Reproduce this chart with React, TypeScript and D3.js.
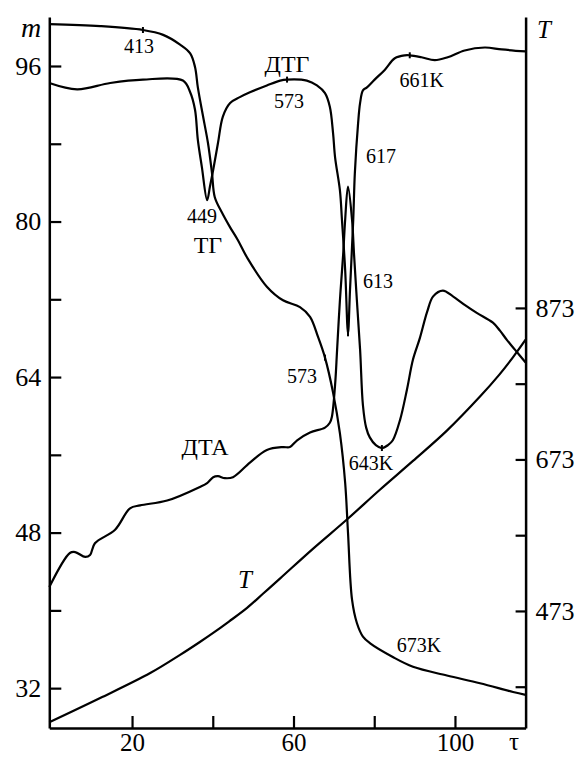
import React, { useRef, useEffect } from 'react';
import * as d3 from 'd3';

type Pt = [number, number]; // [tau, value]

// ТГ, mass in left-axis units
const tgCurve: Pt[] = [
  [-0.5, 100.3], [12.1, 100.1], [22.7, 99.7], [27.7, 99.2], [31.9, 98.2], [34.4, 97.3],
  [35.6, 95.9], [36.3, 93.8], [37.6, 90.8], [38.8, 88.1], [39.8, 85.0], [40.5, 82.5],
  [42.3, 80.9], [44.3, 79.4], [46.2, 78.1], [48.5, 76.3], [53.4, 73.3], [57.4, 71.9],
  [61.6, 71.2], [64.1, 70.2], [66.1, 68.1], [67.8, 66.0], [69.8, 62.4], [71.5, 58.2],
  [72.8, 53.1], [73.5, 48.0], [74.5, 41.1], [75.7, 38.7], [77.2, 37.3], [79.0, 36.6],
  [84.6, 35.2], [89.6, 34.2], [98.0, 33.3], [106.2, 32.5], [114.4, 31.6], [117.5, 31.3],
];

// ДТГ, arbitrary units drawn on the left axis
const dtgCurve: Pt[] = [
  [-0.5, 94.25], [6.4, 93.6], [14.6, 94.25], [22.7, 94.6], [32.6, 94.5], [34.4, 93.3],
  [35.6, 91.5], [36.3, 88.4], [37.3, 85.6], [38.6, 82.2], [39.3, 83.6], [40.1, 85.3],
  [41.3, 88.1], [42.5, 90.8], [44.3, 92.2], [46.7, 92.8], [49.2, 93.3], [53.4, 94.0],
  [56.7, 94.5], [58.4, 94.6], [63.3, 94.5], [65.8, 94.0], [67.8, 93.2], [69.0, 91.8],
  [69.8, 89.1], [70.3, 86.6], [71.5, 83.2], [72.0, 80.2], [72.8, 75.0], [73.5, 68.5],
  [74.0, 73.0], [74.8, 80.2], [75.2, 85.0], [76.0, 90.1], [76.5, 92.2], [77.2, 93.5],
  [78.2, 93.8], [80.1, 94.6], [82.6, 95.6], [85.1, 96.8], [87.6, 97.1], [88.8, 97.1],
  [91.7, 96.9], [95.0, 96.6], [98.2, 96.9], [102.4, 97.6], [107.4, 97.9], [111.6, 97.7],
  [117.5, 97.5],
];

// ДТА, arbitrary units drawn on the left axis
const dtaCurve: Pt[] = [
  [-0.5, 42.4], [4.6, 45.9], [5.9, 46.0], [8.4, 45.5], [9.6, 45.7], [10.8, 46.9],
  [15.8, 48.3], [19.5, 50.5], [22.0, 50.8], [28.7, 51.3], [36.8, 52.7], [38.6, 53.1],
  [40.1, 53.7], [41.3, 53.8], [43.0, 53.6], [45.0, 53.7], [49.2, 55.2], [53.4, 56.5],
  [57.4, 56.8], [59.1, 56.8], [60.9, 57.5], [64.1, 58.3], [67.8, 58.8], [69.0, 59.3],
  [69.5, 59.9], [70.3, 63.2], [70.8, 66.8], [71.5, 71.9], [72.3, 76.6], [72.8, 80.2],
  [73.5, 83.6], [74.5, 80.2], [75.0, 76.6], [75.7, 71.9], [76.5, 66.8], [77.2, 61.1],
  [78.0, 58.8], [78.9, 57.8], [80.4, 57.0], [81.9, 56.7], [83.4, 57.0], [84.6, 57.5],
  [86.4, 59.6], [88.1, 62.7], [89.6, 65.8], [91.3, 68.0], [93.1, 70.7], [94.6, 72.3],
  [97.0, 72.9], [99.5, 72.3], [102.5, 71.4], [105.4, 70.6], [109.4, 69.6], [111.1, 68.8],
  [112.9, 67.8], [114.9, 66.8], [117.5, 65.5],
];

// T, kelvin on the right axis
const tempCurve: Pt[] = [
  [-0.5, 326], [12.1, 358], [24.5, 391], [31.9, 415], [36.8, 432], [40.1, 444],
  [44.0, 459], [48.5, 477], [52.5, 496], [56.7, 516], [64.8, 555], [73.3, 594],
  [81.4, 633], [89.6, 671], [98.0, 711], [106.2, 756], [111.0, 785], [114.4, 808],
  [117.5, 831],
];

interface Mark { tau: number; v: number; text: string }

const tgMarks: Mark[] = [
  { tau: 22.7, v: 99.7, text: '413' },
  { tau: 67.8, v: 66.0, text: '573' },
  { tau: 89.6, v: 34.2, text: '673K' },
];
const dtgMarks: Mark[] = [
  { tau: 38.6, v: 82.2, text: '449' },
  { tau: 58.4, v: 94.6, text: '573' },
  { tau: 73.5, v: 68.5, text: '613' },
  { tau: 88.8, v: 97.1, text: '661K' },
];
const dtaMarks: Mark[] = [
  { tau: 73.5, v: 83.6, text: '617' },
  { tau: 81.9, v: 56.7, text: '643K' },
];

const massTicks = [32, 40, 48, 56, 64, 72, 80, 88, 96];
const massLabels = [32, 48, 64, 80, 96];
const tempTicks = [373, 473, 573, 673, 773, 873];
const tempLabels = [473, 673, 873];
const timeTicks = [20, 40, 60, 80, 100];
const timeLabels = [20, 60, 100];

const W = 578;
const H = 758;
const FONT = '"Liberation Serif", "Times New Roman", serif';

// label offsets from the marked point (px) and whether a small tick is drawn
const markStyle: Record<string, [number, number, boolean]> = {
  'tg413': [-4, 23, true],
  'tg573': [-23, 25, true],
  'tg673K': [6, -15, false],
  'dtg449': [-5, 23, false],
  'dtg573': [2, 28, true],
  'dtg613': [30, -45, true],
  'dtg661K': [12, 32, true],
  'dta617': [33, -24, false],
  'dta643K': [-11, 22, true],
};

const App: React.FC = () => {
  const svgRef = useRef<SVGSVGElement | null>(null);

  useEffect(() => {
    if (!svgRef.current) return;
    const svg = d3.select(svgRef.current);
    svg.selectAll('*').remove();

    const x = d3.scaleLinear().domain([-0.5, 117.5]).range([49.3, 525.6]);
    const yM = d3.scaleLinear().domain([27.9, 101.04]).range([728, 17]);
    const yT = d3.scaleLinear().domain([318.5, 1257]).range([728, 17]);

    const g = svg.append('g').style('font-family', FONT);

    // axes
    const left = g.append('g').attr('transform', `translate(${x(-0.5)},0)`)
      .call(d3.axisLeft(yM).tickValues(massTicks).tickSize(-12).tickSizeOuter(0).tickPadding(8)
        .tickFormat(d => (massLabels.includes(d as number) ? String(d) : '')));
    const right = g.append('g').attr('transform', `translate(${x(117.5)},0)`)
      .call(d3.axisRight(yT).tickValues(tempTicks).tickSize(-10).tickSizeOuter(0).tickPadding(10)
        .tickFormat(d => (tempLabels.includes(d as number) ? String(d) : '')));
    const bottom = g.append('g').attr('transform', `translate(0,728)`)
      .call(d3.axisBottom(x).tickValues(timeTicks).tickSize(-12).tickSizeOuter(0).tickPadding(5)
        .tickFormat(d => (timeLabels.includes(d as number) ? String(d) : '')));

    [left, right, bottom].forEach(a => {
      a.select('.domain').attr('stroke', '#000').attr('stroke-width', 2.5);
      a.selectAll('.tick line').attr('stroke', '#000').attr('stroke-width', 2.2);
      a.selectAll('.tick text').attr('fill', '#000').style('font-size', '26px').style('font-family', FONT);
    });
    bottom.selectAll('.tick text').style('font-size', '25px');

    g.append('text').attr('x', 31).attr('y', 37).attr('text-anchor', 'middle')
      .style('font-size', '28px').style('font-style', 'italic').text('m');
    g.append('text').attr('x', 537).attr('y', 38)
      .style('font-size', '25px').style('font-style', 'italic').text('T');
    g.append('text').attr('x', 514).attr('y', 750).attr('text-anchor', 'middle')
      .style('font-size', '25px').text('τ');

    // curves
    const lineM = d3.line<Pt>().x(d => x(d[0])).y(d => yM(d[1])).curve(d3.curveCatmullRom.alpha(0.5));
    const lineT = d3.line<Pt>().x(d => x(d[0])).y(d => yT(d[1])).curve(d3.curveCatmullRom.alpha(0.5));

    [tgCurve, dtgCurve, dtaCurve].forEach(c => {
      g.append('path').datum(c).attr('d', lineM).attr('fill', 'none')
        .attr('stroke', '#000').attr('stroke-width', 2.2).attr('stroke-linejoin', 'round');
    });
    g.append('path').datum(tempCurve).attr('d', lineT).attr('fill', 'none')
      .attr('stroke', '#000').attr('stroke-width', 2.2);

    // marked points
    const drawMarks = (key: string, marks: Mark[]) => {
      marks.forEach(m => {
        const [dx, dy, tick] = markStyle[key + m.text];
        const px = x(m.tau);
        const py = yM(m.v);
        if (tick) {
          g.append('line').attr('x1', px).attr('x2', px).attr('y1', py - 3).attr('y2', py + 3)
            .attr('stroke', '#000').attr('stroke-width', 2);
        }
        g.append('text').attr('x', px + dx).attr('y', py + dy).attr('text-anchor', 'middle')
          .style('font-size', '20px').text(m.text);
      });
    };
    drawMarks('tg', tgMarks);
    drawMarks('dtg', dtgMarks);
    drawMarks('dta', dtaMarks);

    // curve names
    const names: { text: string; tau: number; v: number }[] = [
      { text: 'ДТГ', tau: 58.4, v: 95.4 },
      { text: 'ТГ', tau: 38.8, v: 76.8 },
      { text: 'ДТА', tau: 38.1, v: 56.0 },
    ];
    names.forEach(n => {
      g.append('text').attr('x', x(n.tau)).attr('y', yM(n.v)).attr('text-anchor', 'middle')
        .style('font-size', '24px').text(n.text);
    });
    g.append('text').attr('x', x(48.0)).attr('y', yT(503)).attr('text-anchor', 'middle')
      .style('font-size', '25px').style('font-style', 'italic').text('T');
  }, []);

  return (
    <svg
      ref={svgRef}
      width={W}
      height={H}
      style={{ position: 'absolute', left: 0, top: 0, background: '#fff' }}
    />
  );
};

export default App;
